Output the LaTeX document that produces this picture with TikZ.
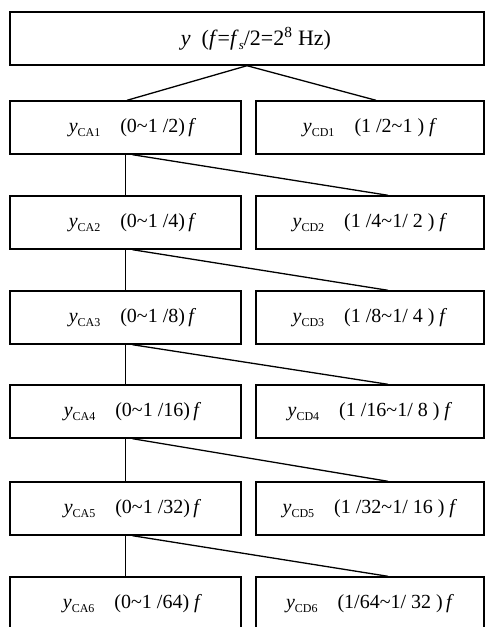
\documentclass[tikz,border=0pt]{standalone}
\usepackage{fontspec}
\setmainfont{Liberation Serif}
\usetikzlibrary{positioning}

\newcommand{\ysub}[1]{\textit{y}\raisebox{-0.4ex}{\fontsize{12}{12}\selectfont #1}}
\newcommand{\fq}{\textit{f}}
\newcommand{\tl}{\textasciitilde}

\begin{document}
\begin{tikzpicture}[x=1pt, y=-1pt,
  block/.style={rectangle, draw, line width=1.4pt, minimum height=53pt,
                inner sep=0pt, font=\fontsize{20}{24}\selectfont},
  lbox/.style={block, minimum width=231pt},
  rbox/.style={block, minimum width=228pt},
  link/.style={line width=1.3pt}
]
\clip (0,0) rectangle (485,627);

\node[block, minimum width=474pt, font=\fontsize{22}{26}\selectfont] (top) at (247,38.5)
  {\hspace{18pt}\textit{y}\enspace(\fq=\fq\raisebox{-0.4ex}{\fontsize{13}{13}\selectfont\textit{s}}/2=2\textsuperscript{8} Hz)};

\node[lbox] (ca1) at (125.5,127.5) {\hspace{14pt}\ysub{CA1}\quad(0\tl1 /2)\,\fq};
\node[rbox] (cd1) at (370,127.5)   {\ysub{CD1}\quad(1 /2\tl1 )\ \fq\hspace{22pt}};

\node[lbox] (ca2) at (125.5,222.5) {\hspace{14pt}\ysub{CA2}\quad(0\tl1 /4)\,\fq};
\node[rbox] (cd2) at (370,222.5)   {\ysub{CD2}\quad(1 /4\tl1/ 2 )\ \fq};

\node[lbox] (ca3) at (125.5,317.5) {\hspace{14pt}\ysub{CA3}\quad(0\tl1 /8)\,\fq};
\node[rbox] (cd3) at (370,317.5)   {\ysub{CD3}\quad(1 /8\tl1/ 4 )\ \fq};

\node[lbox] (ca4) at (125.5,411.5) {\hspace{14pt}\ysub{CA4}\quad(0\tl1 /16)\,\fq};
\node[rbox] (cd4) at (370,411.5)   {\ysub{CD4}\quad(1 /16\tl1/ 8 )\ \fq};

\node[lbox] (ca5) at (125.5,508.5) {\hspace{14pt}\ysub{CA5}\quad(0\tl1 /32)\,\fq};
\node[rbox] (cd5) at (370,508.5)   {\ysub{CD5}\quad(1 /32\tl1/ 16 )\ \fq};

\node[lbox] (ca6) at (125.5,603.5) {\hspace{14pt}\ysub{CA6}\quad(0\tl1 /64)\ \fq};
\node[rbox] (cd6) at (370,603.5)   {\ysub{CD6}\quad(1/64\tl1/ 32 )\,\fq};

\draw[link] (top.south) -- ([xshift=1.5pt]ca1.north);
\draw[link] (top.south) -- ([xshift=6pt]cd1.north);

\draw[link] (ca1.south) -- (ca2.north);
\draw[link] ([xshift=7pt]ca1.south) -- ([xshift=18pt]cd2.north);
\draw[link] (ca2.south) -- (ca3.north);
\draw[link] ([xshift=7pt]ca2.south) -- ([xshift=18pt]cd3.north);
\draw[link] (ca3.south) -- (ca4.north);
\draw[link] ([xshift=7pt]ca3.south) -- ([xshift=18pt]cd4.north);
\draw[link] (ca4.south) -- (ca5.north);
\draw[link] ([xshift=7pt]ca4.south) -- ([xshift=18pt]cd5.north);
\draw[link] (ca5.south) -- (ca6.north);
\draw[link] ([xshift=7pt]ca5.south) -- ([xshift=18pt]cd6.north);

\end{tikzpicture}
\end{document}
